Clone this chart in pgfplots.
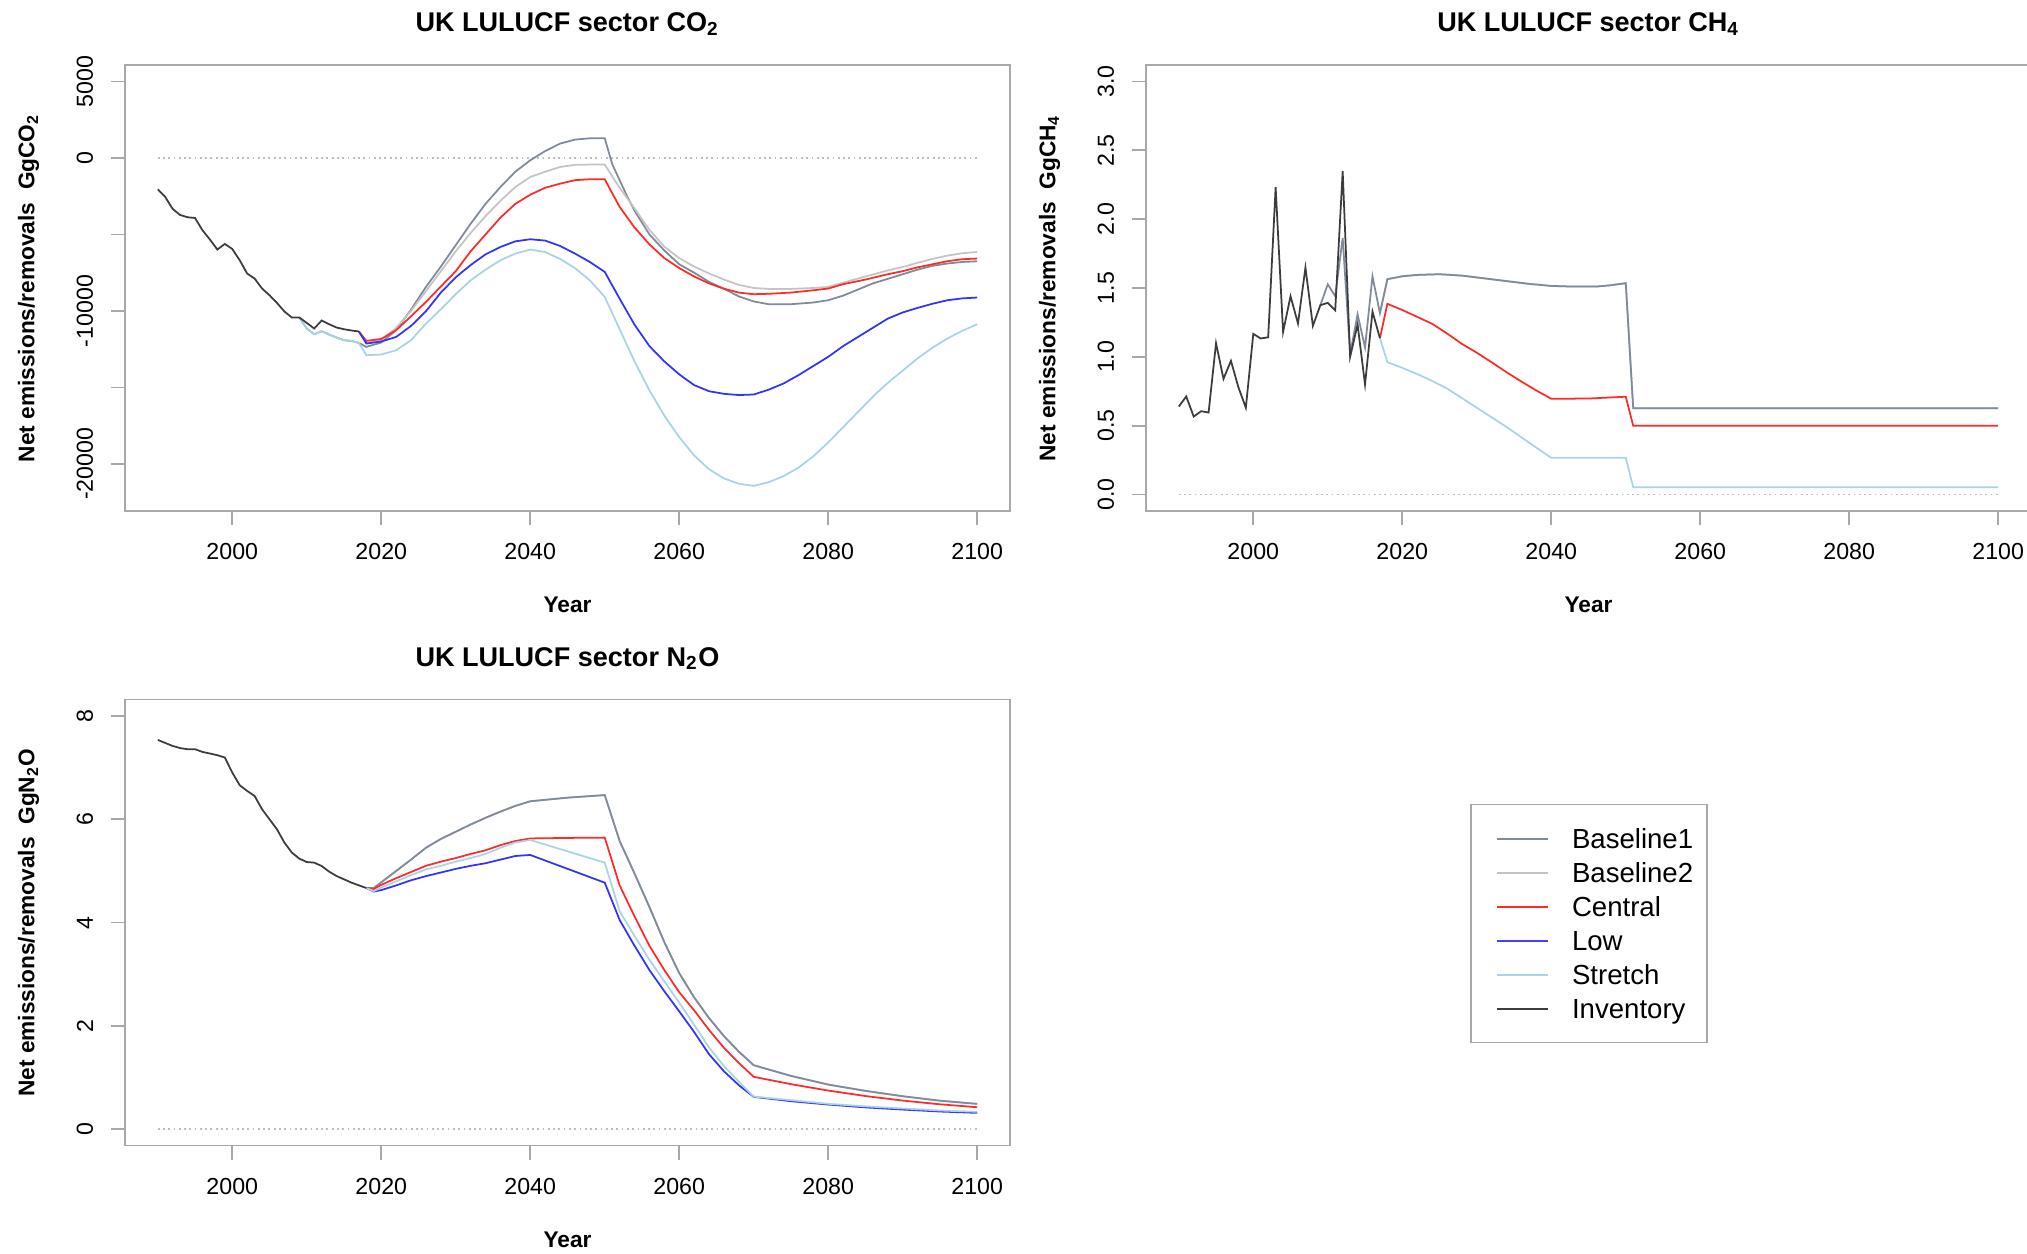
\documentclass[border=0pt]{standalone}
\usepackage{fontspec}
\setmainfont{Liberation Sans}
\usepackage{pgfplots}
\pgfplotsset{compat=1.18}

\definecolor{baseonecol}{HTML}{7F8B9B}
\definecolor{basetwocol}{HTML}{C4C4C4}
\definecolor{centralcol}{HTML}{FF2A2A}
\definecolor{lowcol}{HTML}{3333FF}
\definecolor{stretchcol}{HTML}{A9D4E4}
\definecolor{invcol}{HTML}{3C3C3C}
\definecolor{zerocol}{HTML}{BDBDBD}
\definecolor{framecol}{HTML}{A8A8A8}

\pgfplotsset{
  rpanel/.style={
    scale only axis, width=88.5mm, height=44.6mm,
    xmin=1985.6, xmax=2104.4,
    xtick={2000,2020,2040,2060,2080,2100},
    xticklabels={2000,2020,2040,2060,2080,2100},
    scaled y ticks=false,
    axis line style={framecol, line width=0.5pt},
    every tick/.style={framecol, line width=0.5pt},
    tick align=outside, major tick length=1.4mm,
    xtick pos=bottom, ytick pos=left,
    tick label style={font=\fontsize{6.6}{7.8}\selectfont, text=black},
    xticklabel style={anchor=center, yshift=-2.65mm},
    yticklabel style={xshift=-2.6mm, rotate=90, anchor=center},
    label style={font=\bfseries\fontsize{6.45}{7.7}\selectfont},
    xlabel={Year},
    xlabel style={at={(axis description cs:0.5,-0.2108)}, anchor=center},
    ylabel style={at={(axis description cs:-0.109,0.5)}, anchor=center},
    every axis title shift=0pt,
    title style={font=\bfseries\fontsize{7.7}{9}\selectfont,
                 at={(axis description cs:0.5,1.092)}, anchor=center},
    every axis plot/.append style={line width=0.5pt, no marks},
    zeroline/.style={zerocol, densely dotted, line width=0.5pt, forget plot},
  }
}

\begin{document}
\begin{tikzpicture}
\useasboundingbox (0,0) rectangle (202.7mm,125.3mm);

% ---------------- CO2 ----------------
\begin{axis}[rpanel, at={(12.5mm,74.2mm)}, anchor=south west,
  ymin=-23080, ymax=6080,
  ytick={-20000,-15000,-10000,-5000,0,5000},
  yticklabels={-20000,,-10000,,0,5000},
  title={UK LULUCF sector CO\textsubscript{2}},
  ylabel={Net emissions/removals\ \ GgCO\textsubscript{2}}]
\addplot[zeroline] coordinates {(1990,0)(2100,0)};
% Baseline1
\addplot[baseonecol] coordinates {
(2009,-10431)(2010,-11150)(2011,-11523)(2012,-11327)(2013,-11542)(2014,-11739)
(2015,-11915)(2016,-11961)(2017,-12092)(2018,-12353)(2020,-12065)(2022,-11261)
(2024,-9909)(2026,-8431)(2028,-7100)(2030,-5700)(2032,-4300)(2034,-3000)
(2036,-1895)(2038,-900)(2040,-150)(2042,450)(2044,941)(2046,1200)(2048,1288)
(2050,1288)(2051,-400)(2052,-1450)(2053,-2500)(2054,-3450)(2056,-5000)
(2058,-6050)(2060,-6950)(2062,-7500)(2064,-8100)(2066,-8550)(2068,-9050)
(2070,-9380)(2072,-9560)(2075,-9560)(2078,-9450)(2080,-9300)(2082,-9000)
(2084,-8600)(2086,-8200)(2088,-7900)(2090,-7600)(2092,-7300)(2094,-7050)
(2096,-6900)(2098,-6800)(2100,-6752)};
% Baseline2
\addplot[basetwocol] coordinates {
(2017,-11346)(2018,-12100)(2020,-11900)(2022,-11100)(2024,-10000)(2026,-8700)
(2028,-7400)(2030,-6100)(2032,-4900)(2034,-3800)(2036,-2800)(2038,-1900)
(2040,-1242)(2042,-900)(2044,-588)(2046,-450)(2048,-431)(2050,-431)
(2051,-1200)(2052,-1950)(2054,-3300)(2056,-4700)(2058,-5800)(2060,-6550)
(2062,-7100)(2064,-7550)(2066,-7950)(2068,-8300)(2070,-8500)(2072,-8560)
(2075,-8560)(2078,-8500)(2080,-8430)(2082,-8150)(2085,-7750)(2088,-7350)
(2090,-7124)(2092,-6850)(2094,-6600)(2096,-6380)(2098,-6230)(2100,-6144)};
% Central
\addplot[centralcol] coordinates {
(2017,-11346)(2018,-11961)(2020,-11830)(2022,-11261)(2024,-10346)(2026,-9412)
(2028,-8400)(2030,-7400)(2032,-6100)(2034,-5000)(2036,-3900)(2038,-3000)
(2040,-2400)(2042,-1950)(2044,-1680)(2046,-1450)(2048,-1392)(2050,-1392)
(2051,-2300)(2052,-3200)(2054,-4550)(2056,-5650)(2058,-6550)(2060,-7200)
(2062,-7750)(2064,-8200)(2066,-8550)(2068,-8800)(2070,-8908)(2072,-8880)
(2075,-8800)(2078,-8650)(2080,-8536)(2082,-8250)(2085,-7950)(2088,-7600)
(2090,-7400)(2092,-7150)(2094,-6950)(2096,-6750)(2098,-6620)(2100,-6575)};
% Low
\addplot[lowcol] coordinates {
(2017,-11346)(2018,-12131)(2020,-12000)(2022,-11699)(2024,-10980)(2026,-10020)
(2028,-8800)(2030,-7800)(2032,-7000)(2034,-6300)(2036,-5817)(2038,-5450)
(2040,-5314)(2042,-5400)(2044,-5750)(2046,-6250)(2048,-6800)(2050,-7451)
(2052,-9200)(2054,-10900)(2056,-12300)(2058,-13300)(2060,-14150)(2062,-14850)
(2064,-15250)(2066,-15420)(2068,-15500)(2070,-15464)(2072,-15150)(2074,-14745)
(2076,-14200)(2078,-13600)(2080,-13000)(2082,-12300)(2084,-11700)(2086,-11100)
(2088,-10500)(2090,-10100)(2092,-9800)(2094,-9530)(2096,-9300)(2098,-9180)
(2100,-9124)};
% Stretch
\addplot[stretchcol] coordinates {
(2009,-10431)(2010,-11150)(2011,-11523)(2012,-11327)(2013,-11542)(2014,-11739)
(2015,-11915)(2016,-11961)(2017,-12092)(2018,-12895)(2020,-12850)(2022,-12569)
(2024,-11915)(2026,-10824)(2028,-9900)(2030,-8900)(2032,-8000)(2034,-7300)
(2036,-6686)(2038,-6250)(2040,-5990)(2042,-6150)(2044,-6600)(2046,-7200)
(2048,-8000)(2050,-9085)(2052,-11200)(2054,-13300)(2056,-15200)(2058,-16850)
(2060,-18250)(2062,-19450)(2064,-20350)(2066,-20950)(2068,-21300)(2070,-21438)
(2072,-21200)(2074,-20800)(2076,-20250)(2078,-19500)(2080,-18600)(2082,-17600)
(2084,-16600)(2086,-15600)(2088,-14700)(2090,-13900)(2092,-13100)(2094,-12400)
(2096,-11800)(2098,-11300)(2100,-10869)};
% Inventory
\addplot[invcol] coordinates {
(1990,-2046)(1991,-2549)(1992,-3333)(1993,-3725)(1994,-3876)(1995,-3922)
(1996,-4725)(1997,-5333)(1998,-5987)(1999,-5621)(2000,-5948)(2001,-6686)
(2002,-7556)(2003,-7882)(2004,-8536)(2005,-8974)(2006,-9477)(2007,-10039)
(2008,-10431)(2009,-10431)(2010,-10784)(2011,-11150)(2012,-10627)(2013,-10869)
(2014,-11085)(2015,-11196)(2016,-11281)(2017,-11346)};
\end{axis}

% ---------------- CH4 ----------------
\begin{axis}[rpanel, at={(114.6mm,74.2mm)}, anchor=south west,
  ymin=-0.12, ymax=3.12,
  ytick={0,0.5,1,1.5,2,2.5,3},
  yticklabels={0.0,0.5,1.0,1.5,2.0,2.5,3.0},
  title={UK LULUCF sector CH\textsubscript{4}},
  ylabel={Net emissions/removals\ \ GgCH\textsubscript{4}}]
\addplot[zeroline] coordinates {(1990,0)(2100,0)};
% Baseline2
\addplot[basetwocol] coordinates {
(2017,1.317)(2018,1.564)(2020,1.585)(2022,1.595)(2025,1.600)(2028,1.590)
(2031,1.570)(2034,1.550)(2037,1.530)(2040,1.515)(2043,1.510)(2046,1.510)
(2048,1.520)(2050,1.535)(2051,0.627)(2100,0.627)};
% Baseline1
\addplot[baseonecol] coordinates {
(2009,1.375)(2010,1.527)(2011,1.440)(2012,1.864)(2013,1.020)(2014,1.309)
(2015,1.068)(2016,1.585)(2017,1.317)(2018,1.564)(2020,1.585)(2022,1.595)
(2025,1.600)(2028,1.590)(2031,1.570)(2034,1.550)(2037,1.530)(2040,1.515)
(2043,1.510)(2046,1.510)(2048,1.520)(2050,1.535)(2051,0.627)(2100,0.627)};
% Central
\addplot[centralcol] coordinates {
(2017,1.135)(2018,1.385)(2020,1.340)(2022,1.290)(2024,1.240)(2026,1.170)
(2028,1.094)(2030,1.030)(2032,0.960)(2034,0.888)(2036,0.820)(2038,0.755)
(2040,0.695)(2045,0.697)(2050,0.710)(2051,0.499)(2100,0.499)};
% Stretch
\addplot[stretchcol] coordinates {
(2017,1.135)(2018,0.961)(2020,0.920)(2022,0.875)(2024,0.825)(2026,0.770)
(2028,0.700)(2030,0.630)(2032,0.560)(2034,0.490)(2036,0.415)(2038,0.340)
(2040,0.266)(2050,0.266)(2051,0.053)(2100,0.053)};
% Inventory
\addplot[invcol] coordinates {
(1990,0.639)(1991,0.712)(1992,0.566)(1993,0.605)(1994,0.595)(1995,1.099)
(1996,0.840)(1997,0.971)(1998,0.779)(1999,0.630)(2000,1.167)(2001,1.133)
(2002,1.142)(2003,2.232)(2004,1.181)(2005,1.440)(2006,1.242)(2007,1.648)
(2008,1.225)(2009,1.375)(2010,1.392)(2011,1.338)(2012,2.348)(2013,1.000)
(2014,1.235)(2015,0.799)(2016,1.329)(2017,1.135)};
\end{axis}

% ---------------- N2O ----------------
\begin{axis}[rpanel, at={(12.5mm,10.74mm)}, anchor=south west,
  ymin=-0.32, ymax=8.32,
  ytick={0,2,4,6,8}, yticklabels={0,2,4,6,8},
  title={UK LULUCF sector N\textsubscript{2}O},
  ylabel={Net emissions/removals\ \ GgN\textsubscript{2}O},
  legend cell align=left,
  legend image code/.code={\path (-1.9mm,0mm); \draw[#1] (0mm,0mm) -- (5.1mm,0mm);},
  legend style={at={(axis description cs:1.5198,0.7666)}, anchor=north west,
    draw=framecol, line width=0.5pt, fill=white,
    inner xsep=0.6mm, inner ysep=1.7mm, row sep=0pt,
    font=\fontsize{7.85}{9.4}\selectfont,
    nodes={text height=2.25mm, text depth=0.35mm, inner ysep=0.4mm, inner xsep=0.8mm},
    /tikz/every odd column/.append style={column sep=1.5mm}}]
\addplot[zeroline] coordinates {(1990,0)(2100,0)};
% Baseline2 (same path as Baseline1, drawn underneath)
\addplot[basetwocol, forget plot] coordinates {
(2018,4.669)(2019,4.67)(2020,4.78)(2022,5.00)(2024,5.22)(2026,5.45)(2028,5.62)
(2030,5.76)(2032,5.90)(2034,6.03)(2036,6.15)(2038,6.26)(2040,6.35)(2045,6.42)
(2050,6.47)(2052,5.58)(2054,4.95)(2056,4.30)(2058,3.62)(2060,3.02)(2062,2.55)
(2064,2.15)(2066,1.80)(2068,1.50)(2070,1.237)(2075,1.03)(2080,0.862)(2085,0.74)
(2090,0.636)(2095,0.55)(2100,0.488)};
% Baseline1
\addplot[baseonecol, forget plot] coordinates {
(2018,4.669)(2019,4.67)(2020,4.78)(2022,5.00)(2024,5.22)(2026,5.45)(2028,5.62)
(2030,5.76)(2032,5.90)(2034,6.03)(2036,6.15)(2038,6.26)(2040,6.35)(2045,6.42)
(2050,6.47)(2052,5.58)(2054,4.95)(2056,4.30)(2058,3.62)(2060,3.02)(2062,2.55)
(2064,2.15)(2066,1.80)(2068,1.50)(2070,1.237)(2075,1.03)(2080,0.862)(2085,0.74)
(2090,0.636)(2095,0.55)(2100,0.488)};
% Central
\addplot[centralcol, forget plot] coordinates {
(2018,4.669)(2019,4.65)(2020,4.73)(2022,4.86)(2024,4.98)(2026,5.10)(2028,5.18)
(2030,5.25)(2032,5.33)(2034,5.40)(2036,5.50)(2038,5.58)(2040,5.63)(2045,5.64)
(2050,5.646)(2052,4.72)(2054,4.12)(2056,3.55)(2058,3.08)(2060,2.65)(2062,2.30)
(2064,1.92)(2066,1.574)(2068,1.28)(2070,1.012)(2075,0.87)(2080,0.746)(2085,0.64)
(2090,0.552)(2095,0.48)(2100,0.423)};
% Low
\addplot[lowcol, forget plot] coordinates {
(2018,4.669)(2019,4.60)(2020,4.63)(2022,4.72)(2024,4.82)(2026,4.90)(2028,4.97)
(2030,5.04)(2032,5.10)(2034,5.15)(2036,5.22)(2038,5.29)(2040,5.31)(2050,4.773)
(2052,4.05)(2054,3.55)(2056,3.08)(2058,2.67)(2060,2.28)(2062,1.88)(2064,1.45)
(2066,1.12)(2068,0.85)(2070,0.624)(2075,0.54)(2080,0.475)(2085,0.42)(2090,0.378)
(2095,0.34)(2100,0.314)};
% Stretch
\addplot[stretchcol, forget plot] coordinates {
(2018,4.669)(2019,4.61)(2020,4.68)(2022,4.80)(2024,4.92)(2026,5.03)(2028,5.10)
(2030,5.18)(2032,5.25)(2034,5.33)(2036,5.45)(2038,5.55)(2040,5.60)(2050,5.161)
(2052,4.22)(2054,3.74)(2056,3.28)(2058,2.86)(2060,2.45)(2062,2.02)(2064,1.58)
(2066,1.22)(2068,0.92)(2070,0.63)(2075,0.56)(2080,0.49)(2085,0.44)(2090,0.40)
(2095,0.36)(2100,0.335)};
% Inventory
\addplot[invcol, forget plot] coordinates {
(1990,7.539)(1991,7.48)(1992,7.422)(1993,7.38)(1994,7.358)(1995,7.358)
(1996,7.306)(1997,7.275)(1998,7.242)(1999,7.197)(2000,6.906)(2001,6.660)
(2002,6.550)(2003,6.453)(2004,6.195)(2005,6.001)(2006,5.807)(2007,5.549)
(2008,5.355)(2009,5.239)(2010,5.173)(2011,5.161)(2012,5.096)(2013,4.987)
(2014,4.902)(2015,4.838)(2016,4.774)(2017,4.721)(2018,4.669)};
% legend keys
\addlegendimage{baseonecol, line width=0.55pt}
\addlegendentry{Baseline1}
\addlegendimage{basetwocol, line width=0.55pt}
\addlegendentry{Baseline2}
\addlegendimage{centralcol, line width=0.55pt}
\addlegendentry{Central}
\addlegendimage{color=blue!75!white, line width=0.6pt}
\addlegendentry{Low}
\addlegendimage{stretchcol, line width=0.55pt}
\addlegendentry{Stretch}
\addlegendimage{invcol, line width=0.55pt}
\addlegendentry{Inventory}
\end{axis}
\end{tikzpicture}
\end{document}
